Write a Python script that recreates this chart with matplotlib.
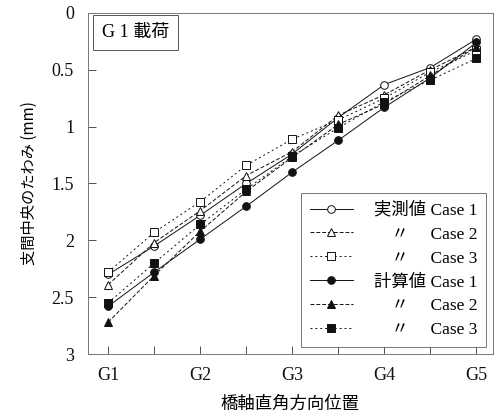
import matplotlib
matplotlib.use("Agg")
import matplotlib.pyplot as plt

positions = [1, 1.5, 2, 2.5, 3, 3.5, 4, 4.5, 5]
tick_labels = ["G1", "", "G2", "", "G3", "", "G4", "", "G5"]

meas_case1 = [2.30, 2.05, 1.78, 1.50, 1.24, 0.92, 0.63, 0.48, 0.23]
meas_case2 = [2.39, 2.02, 1.74, 1.43, 1.22, 0.90, 0.72, 0.50, 0.30]
meas_case3 = [2.28, 1.93, 1.66, 1.34, 1.11, 0.94, 0.75, 0.52, 0.33]
calc_case1 = [2.58, 2.28, 1.99, 1.70, 1.40, 1.12, 0.83, 0.57, 0.26]
calc_case2 = [2.72, 2.31, 1.92, 1.57, 1.27, 0.98, 0.80, 0.55, 0.30]
calc_case3 = [2.55, 2.20, 1.86, 1.55, 1.26, 1.01, 0.78, 0.59, 0.40]

labels = ["実測値 Case 1", "　〃　 Case 2", "　〃　 Case 3",
          "計算値 Case 1", "　〃　 Case 2", "　〃　 Case 3"]

serif = ["Liberation Serif", "Noto Sans CJK JP"]
cjk = ["Noto Sans CJK JP", "Liberation Serif"]

fig = plt.figure(figsize=(4.94, 4.17), dpi=100)
ax = fig.add_axes([0.178, 0.151, 0.820, 0.818])

c = "#111111"
styles = [
    (meas_case1, "o", "white", "-"),
    (meas_case2, "^", "white", (0, (4, 2))),
    (meas_case3, "s", "white", (0, (2, 3))),
    (calc_case1, "o", c, "-"),
    (calc_case2, "^", c, (0, (4, 2))),
    (calc_case3, "s", c, (0, (2, 3))),
]
for (vals, mk, fc, ls), lab in zip(styles, labels):
    ax.plot(positions, vals, linestyle=ls, color=c, lw=0.7, marker=mk,
            markersize=5.5, markerfacecolor=fc,
            markeredgecolor=c, markeredgewidth=0.7, label=lab)

ax.set_xlim(0.78, 5.18)
ax.set_ylim(3, 0)
ax.set_xticks(positions)
ax.set_xticklabels(tick_labels)
ax.set_yticks([0, 0.5, 1, 1.5, 2, 2.5, 3])
ax.set_yticklabels(["0", "0.5", "1", "1.5", "2", "2.5", "3"])
ax.tick_params(direction="in", length=6, width=0.6, colors="#333333",
               labelcolor="#111111", labelsize=13)
ax.tick_params(axis="x", pad=9)
ax.tick_params(axis="y", pad=10)
for lab in ax.get_xticklabels() + ax.get_yticklabels():
    lab.set_family(serif)
for s in ax.spines.values():
    s.set_color("#777777")
    s.set_linewidth(0.7)

ax.set_ylabel("支間中央のたわみ (mm)", family=cjk, fontsize=11, labelpad=10)
ax.set_xlabel("橋軸直角方向位置", family=cjk, fontsize=12.5, labelpad=8)

ax.text(0.035, 0.944, "G 1 載荷", transform=ax.transAxes, family=serif,
        fontsize=13, va="center", ha="left",
        bbox=dict(boxstyle="square,pad=0.5", fc="white", ec="#555555", lw=0.7))

leg = ax.legend(loc="lower right", prop={"family": serif, "size": 12.5},
                frameon=True, fancybox=False, edgecolor="#555555",
                borderaxespad=0.4, handlelength=2.5, labelspacing=0.45,
                borderpad=0.5, handletextpad=1.2)
leg.get_frame().set_linewidth(0.7)

fig.savefig("out.png", dpi=100)
